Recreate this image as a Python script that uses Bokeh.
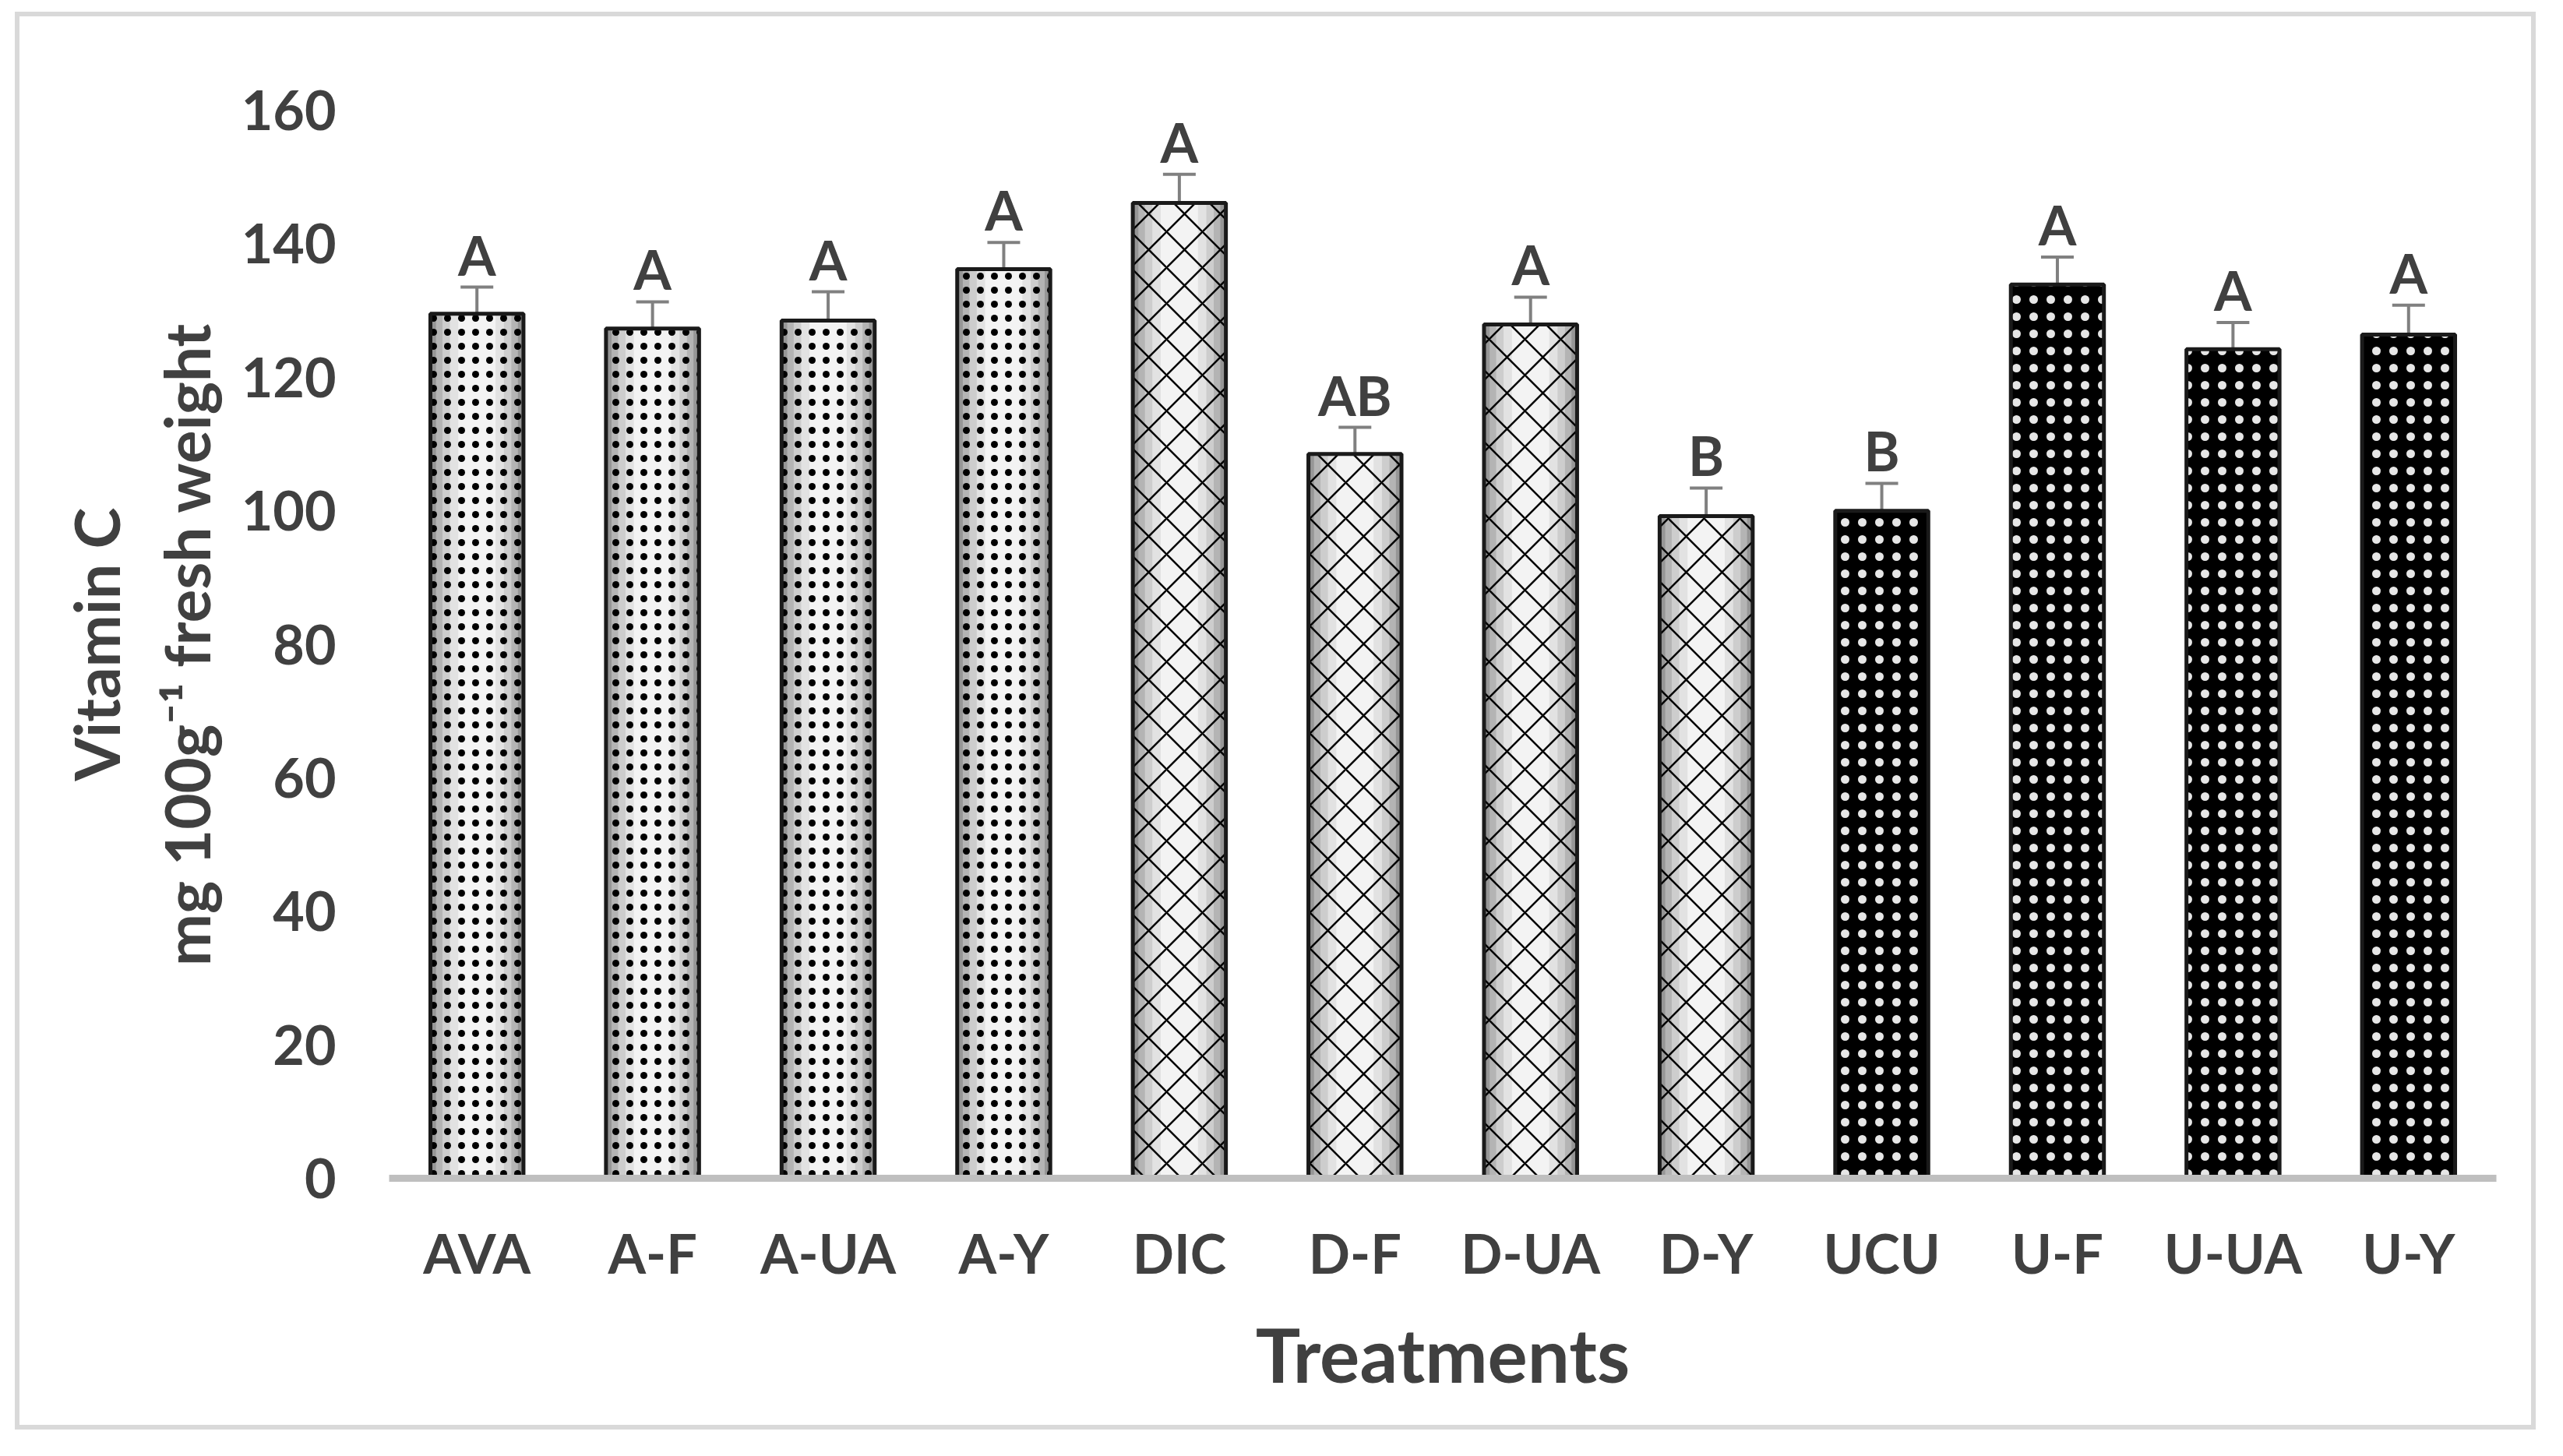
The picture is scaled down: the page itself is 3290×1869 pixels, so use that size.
from bokeh.plotting import figure
from bokeh.models import ColumnDataSource, FactorRange, Range1d, FixedTicker, Whisker, TeeHead
from bokeh.core.properties import value
from bokeh.embed import file_html
from bokeh.resources import INLINE

# ---- data ----
categories = ["AVA", "A-F", "A-UA", "A-Y", "DIC", "D-F", "D-UA", "D-Y", "UCU", "U-F", "U-UA", "U-Y"]
vitamin_c = [129.5, 127.3, 128.5, 136.2, 146.1, 108.5, 127.9, 99.2, 100.0, 133.9, 124.2, 126.4]
std_err = [4.0, 4.0, 4.3, 4.0, 4.3, 4.0, 4.1, 4.2, 4.1, 4.1, 4.0, 4.4]
letters = ["A", "A", "A", "A", "A", "AB", "A", "B", "B", "A", "A", "A"]
groups = ["A", "A", "A", "A", "D", "D", "D", "D", "U", "U", "U", "U"]
y_ticks = [0, 20, 40, 60, 80, 100, 120, 140, 160]

FONT = "Lato"
TXT = "#404040"

def subset(g):
    idx = [i for i, gg in enumerate(groups) if gg == g]
    return ColumnDataSource(dict(
        x=[categories[i] for i in idx],
        top=[vitamin_c[i] for i in idx],
    ))

src_all = ColumnDataSource(dict(
    x=categories,
    top=vitamin_c,
    upper=[v + e for v, e in zip(vitamin_c, std_err)],
    lower=[v - e for v, e in zip(vitamin_c, std_err)],
    lab=letters,
))

p = figure(
    x_range=FactorRange(*categories),
    y_range=Range1d(0, 160),
    width=3236, height=1820,
    min_border_left=474, min_border_right=57,
    min_border_top=120, min_border_bottom=329,
    output_backend="svg", toolbar_location=None,
    background_fill_color="white", border_fill_color="white",
    # light grey chart-area border
    styles={"border": "6px solid #d9d9d9", "transform": "translate(19px, 15px)"},
)
p.outline_line_color = None
p.xgrid.grid_line_color = None
p.ygrid.grid_line_color = None

BAR_W = 0.53

# light gradient groups (A*, D*): layered fills imitate the grey-to-white gradient
grad = [(1.00, "#969696"), (0.88, "#b4b4b4"), (0.74, "#cdcdcd"), (0.58, "#e2e2e2"), (0.40, "#f3f3f3")]
for g, pattern, scale, weight in [("A", ".", 18, 6.0), ("D", "x", 46, 2.5)]:
    s = subset(g)
    for frac, col in grad:
        p.vbar(x="x", top="top", width=BAR_W * frac, bottom=0, source=s, fill_color=col, line_color=None)
    p.vbar(x="x", top="top", width=BAR_W, bottom=0, source=s, fill_alpha=0,
           hatch_pattern=pattern, hatch_color="black", hatch_scale=scale, hatch_weight=weight,
           line_color="#1a1a1a", line_width=5)

# dark group (U*)
s = subset("U")
p.vbar(x="x", top="top", width=BAR_W, bottom=0, source=s, fill_color="black",
       hatch_pattern=".", hatch_color="#e6e6e6", hatch_scale=22, hatch_weight=5.0,
       line_color="#1a1a1a", line_width=5)

# error bars
p.add_layout(Whisker(base="x", upper="upper", lower="lower", source=src_all,
                     line_color="#808080", line_width=4,
                     upper_head=TeeHead(size=42, line_color="#808080", line_width=4),
                     lower_head=TeeHead(size=42, line_color="#808080", line_width=4)))

# significance letters
p.text(x="x", y="upper", text="lab", source=src_all, y_offset=-42,
       text_align="center", text_baseline="alphabetic",
       text_font=value(FONT), text_font_style="bold", text_font_size="70px", text_color=TXT)

# axes
xa = p.xaxis[0]
xa.axis_line_color = "#bfbfbf"
xa.axis_line_width = 9
xa.major_tick_line_color = None
xa.minor_tick_line_color = None
xa.major_label_standoff = 47
xa.major_label_text_font = FONT
xa.major_label_text_font_style = "bold"
xa.major_label_text_font_size = "70px"
xa.major_label_text_color = TXT
xa.axis_label = "Treatments"
xa.axis_label_text_font = FONT
xa.axis_label_text_font_style = "bold"
xa.axis_label_text_font_size = "96px"
xa.axis_label_text_color = TXT
xa.axis_label_standoff = 27

ya = p.yaxis[0]
ya.ticker = FixedTicker(ticks=y_ticks)
ya.axis_line_color = None
ya.major_tick_line_color = None
ya.minor_tick_line_color = None
ya.major_label_standoff = 62
ya.major_label_text_font = FONT
ya.major_label_text_font_style = "bold"
ya.major_label_text_font_size = "70px"
ya.major_label_text_color = TXT
ya.axis_label = "Vitamin C\nmg 100g\u207b\u00b9 fresh weight"
ya.axis_label_text_font = FONT
ya.axis_label_text_font_style = "bold"
ya.axis_label_text_font_size = "80px"
ya.axis_label_text_color = TXT
ya.axis_label_standoff = 20

open("out.html", "w").write(file_html(p, INLINE))
